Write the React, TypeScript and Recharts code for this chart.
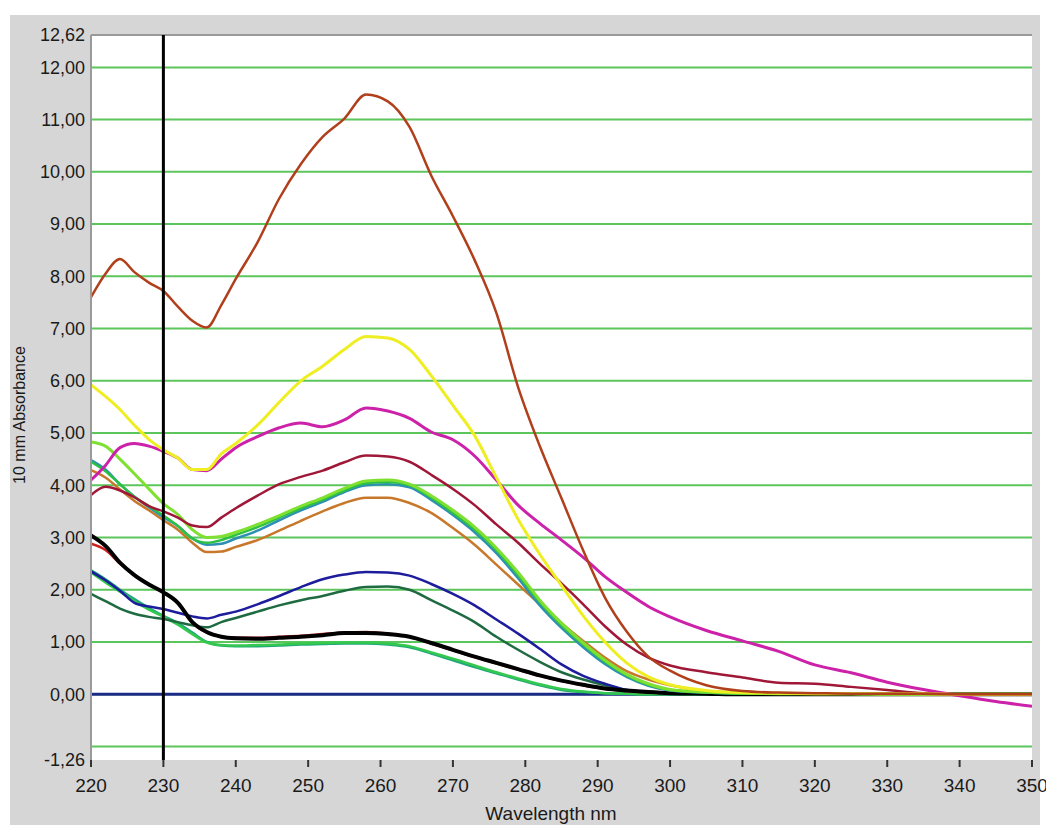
import React from 'react';
import { LineChart, Line, XAxis, YAxis, CartesianGrid, ReferenceLine } from 'recharts';

const wavelengths = [220, 222, 224, 226, 228, 230, 232, 234, 236, 238, 240, 243, 246, 249, 252, 255, 258, 261, 264, 267, 270, 273, 276, 279, 282, 285, 288, 291, 294, 297, 300, 305, 310, 315, 320, 325, 330, 335, 340, 345, 350];

const baseline = [0, 0, 0, 0, 0, 0, 0, 0, 0, 0, 0, 0, 0, 0, 0, 0, 0, 0, 0, 0, 0, 0, 0, 0, 0, 0, 0, 0, 0, 0, 0, 0, 0, 0, 0, 0, 0, 0, 0, 0, 0];
const rust = [7.6, 8.05, 8.33, 8.08, 7.88, 7.72, 7.42, 7.15, 7.02, 7.45, 7.95, 8.65, 9.49, 10.15, 10.67, 11.02, 11.48, 11.35, 10.86, 9.93, 9.15, 8.31, 7.3, 5.88, 4.75, 3.75, 2.75, 1.85, 1.2, 0.72, 0.45, 0.17, 0.06, 0.03, 0.02, 0.01, 0.01, 0.01, 0, 0, 0];
const yellow = [5.92, 5.7, 5.45, 5.15, 4.88, 4.68, 4.52, 4.3, 4.3, 4.6, 4.8, 5.15, 5.59, 6.0, 6.28, 6.6, 6.85, 6.82, 6.6, 6.1, 5.53, 4.95, 4.15, 3.35, 2.68, 2.08, 1.5, 1.0, 0.6, 0.33, 0.18, 0.07, 0.03, 0.02, 0.01, 0.01, 0.01, 0.01, 0, 0, 0];
const magenta = [4.1, 4.38, 4.72, 4.8, 4.75, 4.65, 4.52, 4.3, 4.28, 4.5, 4.72, 4.93, 5.1, 5.19, 5.12, 5.25, 5.48, 5.42, 5.28, 5.02, 4.87, 4.56, 4.1, 3.62, 3.27, 2.95, 2.62, 2.25, 1.95, 1.68, 1.48, 1.22, 1.02, 0.82, 0.56, 0.41, 0.23, 0.09, -0.03, -0.14, -0.23];
const maroon = [3.81, 3.97, 3.9, 3.77, 3.6, 3.5, 3.38, 3.23, 3.2, 3.38, 3.56, 3.8, 4.02, 4.16, 4.28, 4.44, 4.57, 4.55, 4.45, 4.2, 3.93, 3.62, 3.25, 2.9, 2.5, 2.12, 1.72, 1.3, 0.95, 0.7, 0.55, 0.42, 0.32, 0.22, 0.2, 0.14, 0.08, 0.02, 0, 0, 0];
const lime = [4.83, 4.75, 4.5, 4.22, 3.93, 3.65, 3.44, 3.15, 3.0, 3.02, 3.1, 3.25, 3.42, 3.6, 3.76, 3.94, 4.08, 4.1, 4.02, 3.8, 3.52, 3.2, 2.8, 2.33, 1.8, 1.36, 0.98, 0.65, 0.38, 0.2, 0.09, 0.04, 0.02, 0.01, 0.01, 0.01, 0, 0, 0, 0, 0];
const green = [4.45, 4.27, 4.02, 3.78, 3.6, 3.42, 3.22, 2.98, 2.9, 2.95, 3.05, 3.2, 3.38, 3.56, 3.72, 3.9, 4.04, 4.06, 4.0, 3.76, 3.47, 3.15, 2.76, 2.28, 1.76, 1.32, 0.95, 0.62, 0.36, 0.18, 0.08, 0.03, 0.01, 0.01, 0.01, 0.01, 0, 0, 0, 0, 0];
const teal = [4.48, 4.3, 4.02, 3.78, 3.58, 3.39, 3.22, 2.98, 2.86, 2.88, 2.98, 3.13, 3.33, 3.52, 3.68, 3.87, 4.0, 4.02, 3.96, 3.72, 3.43, 3.1, 2.7, 2.22, 1.7, 1.27, 0.9, 0.58, 0.33, 0.16, 0.07, 0.03, 0.01, 0.01, 0.01, 0.01, 0.01, 0, 0, 0, 0];
const ochre = [4.29, 4.15, 3.92, 3.7, 3.52, 3.33, 3.15, 2.9, 2.72, 2.73, 2.82, 2.95, 3.13, 3.32, 3.5, 3.66, 3.76, 3.76, 3.66, 3.47, 3.18, 2.86, 2.48, 2.1, 1.72, 1.36, 1.02, 0.7, 0.44, 0.28, 0.17, 0.06, 0.03, 0.02, 0.01, 0.01, 0.01, 0, 0, 0, 0];
const blue = [2.35, 2.18, 1.98, 1.75, 1.68, 1.63, 1.56, 1.49, 1.45, 1.52, 1.58, 1.72, 1.88, 2.05, 2.2, 2.29, 2.34, 2.33, 2.27, 2.11, 1.92, 1.7, 1.43, 1.16, 0.87, 0.57, 0.35, 0.2, 0.08, 0.04, 0.02, 0.01, 0, 0, 0, 0, 0, 0, 0, 0, 0];
const darkGreen = [1.92, 1.78, 1.64, 1.54, 1.48, 1.44, 1.38, 1.32, 1.28, 1.38, 1.46, 1.58, 1.7, 1.8, 1.88, 1.98, 2.05, 2.06, 2.0, 1.8, 1.6, 1.38, 1.1, 0.85, 0.62, 0.42, 0.28, 0.17, 0.08, 0.04, 0.02, 0.01, 0, 0, 0, 0, 0, 0, 0, 0, 0];
const seaGreen = [2.37, 2.2, 2.0, 1.82, 1.65, 1.5, 1.36, 1.18, 1.0, 0.93, 0.92, 0.92, 0.93, 0.95, 0.96, 0.97, 0.97, 0.95, 0.9, 0.78, 0.65, 0.52, 0.4, 0.28, 0.17, 0.08, 0.04, 0.02, 0.01, 0, 0, 0, 0, 0, 0, 0, 0, 0, 0, 0, 0];
const brightGreen = [2.33, 2.14, 1.96, 1.78, 1.62, 1.48, 1.33, 1.15, 0.99, 0.94, 0.93, 0.94, 0.95, 0.97, 0.98, 0.99, 0.99, 0.97, 0.92, 0.8, 0.68, 0.55, 0.42, 0.3, 0.19, 0.1, 0.05, 0.02, 0.01, 0, 0, 0, 0, 0, 0, 0, 0, 0, 0, 0, 0];
const red = [2.88, 2.76, 2.5, 2.28, 2.1, 1.95, 1.74, 1.37, 1.18, 1.1, 1.08, 1.08, 1.1, 1.12, 1.15, 1.18, 1.19, 1.16, 1.1, 0.97, 0.84, 0.71, 0.59, 0.47, 0.35, 0.25, 0.17, 0.1, 0.06, 0.03, 0.02, 0.01, 0.01, 0, 0, 0, 0, 0, 0, 0, 0];
const black = [3.04, 2.84, 2.52, 2.28, 2.1, 1.95, 1.75, 1.38, 1.19, 1.1, 1.07, 1.06, 1.08, 1.1, 1.13, 1.17, 1.17, 1.15, 1.1, 0.98, 0.85, 0.72, 0.6, 0.48, 0.36, 0.26, 0.18, 0.11, 0.07, 0.04, 0.02, 0.01, 0, 0, 0, 0, 0, 0, 0, 0, 0];

const xTicks = [220, 230, 240, 250, 260, 270, 280, 290, 300, 310, 320, 330, 340, 350];
const yTicks = [-1.26, 0, 1, 2, 3, 4, 5, 6, 7, 8, 9, 10, 11, 12, 12.62];
const gridValues = [-1, 0, 1, 2, 3, 4, 5, 6, 7, 8, 9, 10, 11, 12];

const seriesList = [
  { key: 'baseline', values: baseline, color: '#1b2a86', width: 3 },
  { key: 'seaGreen', values: seaGreen, color: '#21a77a', width: 2.5 },
  { key: 'brightGreen', values: brightGreen, color: '#34c94e', width: 2.5 },
  { key: 'darkGreen', values: darkGreen, color: '#1e6b42', width: 2.5 },
  { key: 'blue', values: blue, color: '#1c1c9c', width: 2.5 },
  { key: 'red', values: red, color: '#cc2222', width: 2.5 },
  { key: 'black', values: black, color: '#000000', width: 4 },
  { key: 'ochre', values: ochre, color: '#c8782a', width: 2.5 },
  { key: 'teal', values: teal, color: '#2e8fb5', width: 2.5 },
  { key: 'green', values: green, color: '#2cc044', width: 2.5 },
  { key: 'lime', values: lime, color: '#7ee030', width: 3 },
  { key: 'maroon', values: maroon, color: '#a01838', width: 2.5 },
  { key: 'magenta', values: magenta, color: '#cc22aa', width: 3 },
  { key: 'yellow', values: yellow, color: '#eeee22', width: 3 },
  { key: 'rust', values: rust, color: '#b0401c', width: 2.5 },
];

const data = wavelengths.map((wl, i) => {
  const row: Record<string, number> = { wl };
  seriesList.forEach((s) => {
    row[s.key] = s.values[i];
  });
  return row;
});

const fmt = (v: number) => v.toFixed(2).replace('.', ',');
const font = 'Liberation Sans, Arial, sans-serif';

export default function App() {
  return (
    <div style={{ position: 'absolute', left: 0, top: 0, width: 1046, height: 825, background: '#ffffff', overflow: 'hidden' }}>
      <div style={{ position: 'absolute', left: 10, top: 15, width: 1030, height: 810, background: '#d6d6d6' }} />
      <div style={{ position: 'absolute', left: 0, top: 0 }}>
        <LineChart width={1046} height={825} data={data} margin={{ top: 35, right: 14, bottom: 0, left: 0 }}>
          <CartesianGrid
            fill="#ffffff"
            vertical={false}
            horizontalValues={gridValues}
            stroke="#5cc65c"
            strokeWidth={2}
          />
          <XAxis
            dataKey="wl"
            type="number"
            domain={[220, 350]}
            ticks={xTicks}
            height={65}
            axisLine={false}
            tickLine={{ stroke: '#333333', strokeWidth: 2 }}
            tickSize={7}
            tickMargin={12}
            tick={{ fill: '#1a1a1a', fontSize: 19, fontFamily: font }}
            interval={0}
            allowDataOverflow
          />
          <YAxis
            type="number"
            domain={[-1.26, 12.62]}
            ticks={yTicks}
            width={91}
            axisLine={{ stroke: '#9a9a9a', strokeWidth: 2 }}
            tickLine={false}
            tickSize={0}
            tickMargin={6}
            tickFormatter={fmt}
            tick={{ fill: '#1a1a1a', fontSize: 18, fontFamily: font }}
            interval={0}
            allowDataOverflow
          />
          {seriesList.map((s) => (
            <Line
              key={s.key}
              dataKey={s.key}
              type="monotone"
              stroke={s.color}
              strokeWidth={s.width}
              dot={false}
              activeDot={false}
              isAnimationActive={false}
            />
          ))}
          <ReferenceLine y={12.62} stroke="#9a9a9a" strokeWidth={2} />
          <ReferenceLine x={230} stroke="#000000" strokeWidth={3} />
        </LineChart>
      </div>
      <div
        style={{
          position: 'absolute',
          left: 20,
          top: 415,
          transform: 'translate(-50%, -50%) rotate(-90deg)',
          fontFamily: font,
          fontSize: 16,
          color: '#1a1a1a',
          whiteSpace: 'nowrap',
          lineHeight: '16px',
        }}
      >
        10 mm Absorbance
      </div>
      <div
        style={{
          position: 'absolute',
          left: 551,
          top: 804,
          transform: 'translateX(-50%)',
          fontFamily: font,
          fontSize: 19,
          color: '#1a1a1a',
          whiteSpace: 'nowrap',
          lineHeight: '20px',
        }}
      >
        Wavelength nm
      </div>
    </div>
  );
}
